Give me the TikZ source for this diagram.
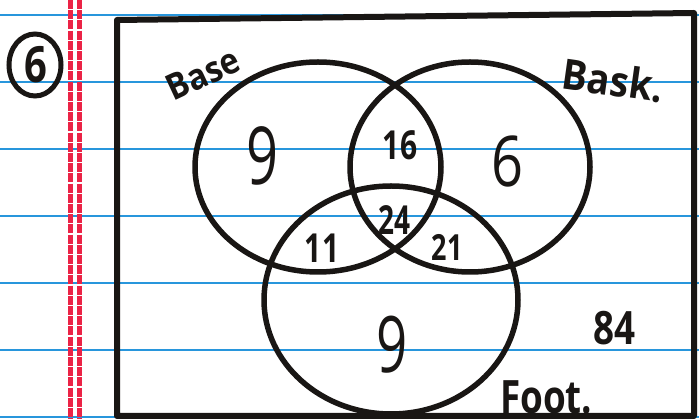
\documentclass[tikz,border=0pt]{standalone}
\usepackage{fontspec}
\setmainfont{Open Sans}
\definecolor{ruleblue}{RGB}{40,150,220}
\definecolor{marginred}{RGB}{235,35,70}
\definecolor{ink}{RGB}{25,22,20}
\tikzset{
  paperline/.style={ruleblue, line width=2pt},
  marginline/.style={marginred, line width=5pt, dash pattern=on 9pt off 1.2pt},
  venn/.style={ink, line width=5.5pt},
  frame/.style={ink, line width=6pt, line join=round},
  num/.style={ink, inner sep=0pt, font=\fontsize{#1}{#1}\selectfont},
  bnum/.style={ink, inner sep=0pt, font=\fontsize{#1}{#1}\selectfont\bfseries},
  lbl/.style={ink, inner sep=0pt, font=\fontsize{#1}{#1}\selectfont\bfseries},
}
\begin{document}
\begin{tikzpicture}[x=1pt,y=-1pt]
\useasboundingbox (0,0) rectangle (699,419);
\fill[white] (0,0) rectangle (699,419);
% ruled paper
\foreach \yy in {15,82,149,216,283,350,417} \draw[paperline] (0,\yy) -- (699,\yy);
\draw[marginline] (70,0) -- (70,419);
\draw[marginline] (79,0) -- (79,419);
% frame
\draw[frame] (117,20) -- (694,13) -- (694,416) -- (117,416) -- cycle;
% problem number
\draw[ink, line width=5pt] (35,65) ellipse [x radius=26, y radius=31];
\node[bnum=50, xscale=0.8] (q) at (36,65) {6};
% Venn circles
\draw[venn] (318,167) ellipse [x radius=123, y radius=105];
\draw[venn] (470,167) ellipse [x radius=120, y radius=105];
\draw[venn] (391,300) ellipse [x radius=127, y radius=114];
% labels
\node[lbl=36, rotate=25, xscale=0.9] (base) at (203,74) {Base};
\node[lbl=42, rotate=-8, xscale=0.9] (bask) at (613,80) {Bask.};
\node[lbl=46, anchor=base west, xscale=0.8] (foot) at (500,414) {Foot.};
% counts
\node[num=80, xscale=0.7] (n1) at (263,156) {9};
\node[bnum=40, xscale=0.75] (n2) at (400,145) {16};
\node[num=70, xscale=0.8] (n3) at (508,162) {6};
\node[bnum=40, xscale=0.7] (n4) at (394,220) {24};
\node[bnum=36, xscale=0.75] (n5) at (447,247) {21};
\node[bnum=40, xscale=0.75] (n6) at (322,248) {11};
\node[num=78, xscale=0.7] (n7) at (392,345) {9};
\node[bnum=46, xscale=0.8] (n8) at (614,328) {84};
\end{tikzpicture}
\end{document}
